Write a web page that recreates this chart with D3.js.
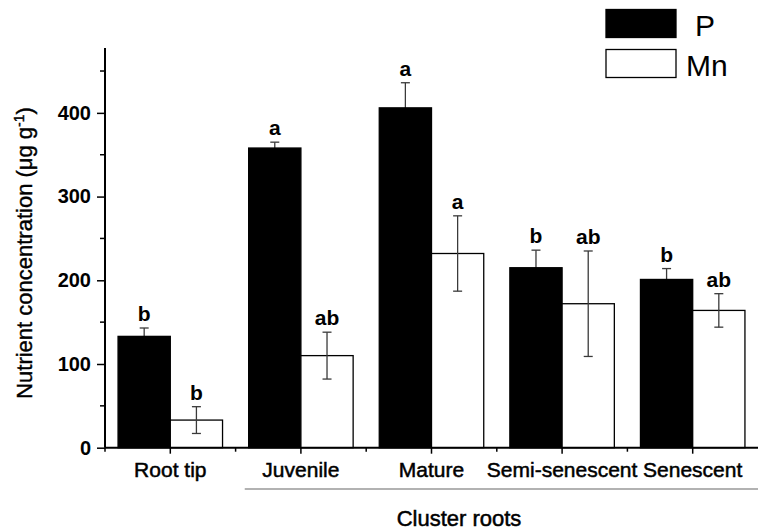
<!DOCTYPE html>
<html>
<head>
<meta charset="utf-8">
<script src="https://cdn.jsdelivr.net/npm/d3@7"></script>
<style>
  body { margin: 0; background: #fff; }
  svg { display: block; font-family: "Liberation Sans", Arial, sans-serif; }
</style>
</head>
<body>
<div id="chart"></div>
<script>
// Data
var categories = ["Root tip", "Juvenile", "Mature", "Semi-senescent", "Senescent"];
var pValues = [133, 358, 406, 215, 201];
var pErrors = [10, 7, 30, 21, 13];
var mnValues = [33, 110, 232, 172, 164];
var mnErrors = [16, 28, 45, 63, 20];
var pLetters = ["b", "a", "a", "b", "b"];
var mnLetters = ["b", "ab", "a", "ab", "ab"];
var yTicks = [0, 100, 200, 300, 400];
var yMinorTicks = [50, 150, 250, 350, 450];
var seriesNames = ["P", "Mn"];

var width = 768, height = 531;
var margin = { top: 48, right: 10, bottom: 83, left: 105 };

var svg = d3.select("#chart").append("svg")
  .attr("width", width)
  .attr("height", height);

// Scales
var xScale = d3.scaleBand()
  .domain(categories)
  .range([margin.left, width - margin.right])
  .padding(0);

var yScale = d3.scaleLinear()
  .domain([0, 477.5])
  .range([height - margin.bottom - 0.3, margin.top]);

var bw = xScale.bandwidth();
var barW = bw * 0.4;

var rows = categories.map(function(c, i) {
  return [
    { cat: c, series: "P", value: pValues[i], err: pErrors[i], letter: pLetters[i], off: -barW },
    { cat: c, series: "Mn", value: mnValues[i], err: mnErrors[i], letter: mnLetters[i], off: 0 }
  ];
});
var flat = [].concat.apply([], rows);
var cx = function(d) { return xScale(d.cat) + bw / 2 + d.off; };

// Error bars (P ones go behind the black bars, Mn ones on top)
function drawErrors(layer, data) {
  var eb = layer.selectAll("g")
    .data(data)
    .enter()
    .append("g")
    .attr("stroke", "#3a3a3a")
    .attr("stroke-width", 1.3);
  eb.append("line")
    .attr("x1", function(d) { return cx(d) + barW / 2; })
    .attr("x2", function(d) { return cx(d) + barW / 2; })
    .attr("y1", function(d) { return yScale(d.value + d.err); })
    .attr("y2", function(d) { return yScale(d.value - d.err); });
  eb.selectAll("line.cap")
    .data(function(d) { return [[d, d.value + d.err], [d, d.value - d.err]]; })
    .enter()
    .append("line")
    .attr("class", "cap")
    .attr("x1", function(p) { return cx(p[0]) + barW / 2 - 4.5; })
    .attr("x2", function(p) { return cx(p[0]) + barW / 2 + 4.5; })
    .attr("y1", function(p) { return yScale(p[1]); })
    .attr("y2", function(p) { return yScale(p[1]); });
}

drawErrors(svg.append("g"), flat.filter(function(d) { return d.series === "P"; }));

// Bars
svg.append("g").selectAll("rect")
  .data(flat)
  .enter()
  .append("rect")
  .attr("x", cx)
  .attr("y", function(d) { return yScale(d.value); })
  .attr("width", barW)
  .attr("height", function(d) { return yScale(0) - yScale(d.value); })
  .attr("fill", function(d) { return d.series === "P" ? "#000" : "#fff"; })
  .attr("stroke", "#000")
  .attr("stroke-width", 1.3);

drawErrors(svg.append("g"), flat.filter(function(d) { return d.series === "Mn"; }));

// Significance letters
svg.append("g").selectAll("text")
  .data(flat)
  .enter()
  .append("text")
  .attr("x", function(d) { return cx(d) + barW / 2; })
  .attr("y", function(d) { return yScale(d.value + d.err) - 7; })
  .attr("text-anchor", "middle")
  .attr("font-size", 21)
  .attr("font-weight", "bold")
  .text(function(d) { return d.letter; });

// Y axis
var yAxis = d3.axisLeft(yScale).tickValues(yTicks).tickSize(8).tickPadding(6);
var gy = svg.append("g")
  .attr("transform", "translate(" + margin.left + ",0)")
  .call(yAxis);
gy.selectAll("line.minor")
  .data(yMinorTicks)
  .enter()
  .append("line")
  .attr("class", "minor")
  .attr("x1", -5).attr("x2", 0)
  .attr("y1", function(d) { return yScale(d); })
  .attr("y2", function(d) { return yScale(d); })
  .attr("stroke", "#000").attr("stroke-width", 1.5);
gy.select(".domain").attr("d", "M0," + yScale(0) + "V" + margin.top).attr("stroke-width", 2);
gy.selectAll(".tick line").attr("stroke-width", 1.5);
gy.selectAll(".tick text")
  .attr("font-size", 20)
  .attr("font-weight", "bold")
  .attr("font-family", "Liberation Sans, Arial, sans-serif")
  .attr("fill", "#000");

// X axis
var xAxis = d3.axisBottom(xScale).tickSize(6).tickPadding(8);
var gx = svg.append("g")
  .attr("transform", "translate(0," + yScale(0) + ")")
  .call(xAxis);
gx.select(".domain").attr("d", "M" + margin.left + ",0H" + (width - margin.right)).attr("stroke-width", 2);
gx.selectAll(".tick line").attr("stroke-width", 1.5);
gx.selectAll(".tick text")
  .attr("font-size", 21)
  .attr("font-family", "Liberation Sans, Arial, sans-serif")
  .attr("fill", "#000")
  .attr("stroke", "#000")
  .attr("stroke-width", 0.5);
gx.selectAll("line.minor")
  .data(categories)
  .enter()
  .append("line")
  .attr("class", "minor")
  .attr("x1", function(d) { return xScale(d); })
  .attr("x2", function(d) { return xScale(d); })
  .attr("y1", 0).attr("y2", 4)
  .attr("stroke", "#000").attr("stroke-width", 1.5);

// Group line for cluster roots
svg.append("line")
  .attr("x1", xScale("Juvenile") + bw * 0.07)
  .attr("x2", width - margin.right)
  .attr("y1", 489).attr("y2", 489)
  .attr("stroke", "#999").attr("stroke-width", 1.5);

svg.append("text")
  .attr("x", 459)
  .attr("y", 526)
  .attr("text-anchor", "middle")
  .attr("font-size", 22)
  .attr("stroke", "#000").attr("stroke-width", 0.5)
  .text("Cluster roots");

// Y title
var yt = svg.append("text")
  .attr("transform", "translate(32,253) rotate(-90)")
  .attr("text-anchor", "middle")
  .attr("font-size", 22)
  .attr("stroke", "#000").attr("stroke-width", 0.4);
yt.append("tspan").text("Nutrient concentration (\u03BCg g");
yt.append("tspan").attr("dy", -8).attr("font-size", 14).text("-1");
yt.append("tspan").attr("dy", 8).text(")");

// Legend
var legend = svg.append("g").selectAll("g")
  .data(seriesNames)
  .enter()
  .append("g")
  .attr("transform", function(d, i) { return "translate(606," + (9.5 + i * 40) + ")"; });
legend.append("rect")
  .attr("width", 70).attr("height", 28)
  .attr("fill", function(d) { return d === "P" ? "#000" : "#fff"; })
  .attr("stroke", "#000").attr("stroke-width", 1.3);
legend.append("text")
  .attr("x", function(d) { return d === "P" ? 89 : 80; })
  .attr("y", 26)
  .attr("font-size", 30)
  .text(function(d) { return d; });
</script>
</body>
</html>
